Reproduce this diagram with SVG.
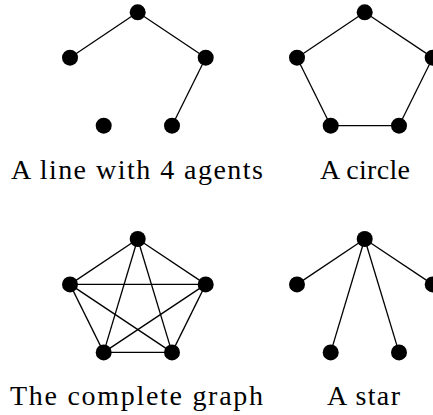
<svg xmlns="http://www.w3.org/2000/svg" width="433" height="415" viewBox="0 0 433 415">
<style>
.n{fill:#000}
.e{stroke:#000;stroke-width:1.3;fill:none}
.t{font-family:'Liberation Serif','Times New Roman','DejaVu Serif',serif;font-size:28px;fill:#000}
</style>
<rect width="433" height="415" fill="#fff"/>
<g id="connectors">
<line class="e" x1="137.7" y1="12.3" x2="70" y2="57.7"/>
<line class="e" x1="137.7" y1="12.3" x2="205.7" y2="57.7"/>
<line class="e" x1="205.7" y1="57.7" x2="172" y2="125.7"/>
<line class="e" x1="364.7" y1="12.3" x2="297" y2="57.7"/>
<line class="e" x1="364.7" y1="12.3" x2="432.7" y2="57.7"/>
<line class="e" x1="432.7" y1="57.7" x2="399" y2="125.7"/>
<line class="e" x1="399" y1="125.7" x2="330.7" y2="125.7"/>
<line class="e" x1="330.7" y1="125.7" x2="297" y2="57.7"/>
<line class="e" x1="137.7" y1="239" x2="70" y2="284.4"/>
<line class="e" x1="137.7" y1="239" x2="205.7" y2="284.4"/>
<line class="e" x1="137.7" y1="239" x2="103.7" y2="352.4"/>
<line class="e" x1="137.7" y1="239" x2="172" y2="352.4"/>
<line class="e" x1="70" y1="284.4" x2="205.7" y2="284.4"/>
<line class="e" x1="70" y1="284.4" x2="103.7" y2="352.4"/>
<line class="e" x1="70" y1="284.4" x2="172" y2="352.4"/>
<line class="e" x1="205.7" y1="284.4" x2="103.7" y2="352.4"/>
<line class="e" x1="205.7" y1="284.4" x2="172" y2="352.4"/>
<line class="e" x1="103.7" y1="352.4" x2="172" y2="352.4"/>
<line class="e" x1="364.7" y1="239" x2="297" y2="284.4"/>
<line class="e" x1="364.7" y1="239" x2="432.7" y2="284.4"/>
<line class="e" x1="364.7" y1="239" x2="330.7" y2="352.4"/>
<line class="e" x1="364.7" y1="239" x2="399" y2="352.4"/>
</g>
<g id="line-graph">
<circle id="l1" class="n" cx="137.7" cy="12.3" r="8"/>
<circle id="l2" class="n" cx="70" cy="57.7" r="8"/>
<circle id="l3" class="n" cx="205.7" cy="57.7" r="8"/>
<circle id="l4" class="n" cx="103.7" cy="125.7" r="8"/>
<circle id="l5" class="n" cx="172" cy="125.7" r="8"/>
<text class="t" x="11" y="178.5" textLength="252" lengthAdjust="spacing">A line with 4 agents</text>
</g>
<g id="circle-graph">
<circle id="c1" class="n" cx="364.7" cy="12.3" r="8"/>
<circle id="c2" class="n" cx="297" cy="57.7" r="8"/>
<circle id="c3" class="n" cx="432.7" cy="57.7" r="8"/>
<circle id="c4" class="n" cx="330.7" cy="125.7" r="8"/>
<circle id="c5" class="n" cx="399" cy="125.7" r="8"/>
<text class="t" x="320" y="178.5" textLength="90" lengthAdjust="spacing">A circle</text>
</g>
<g id="complete-graph">
<circle id="k1" class="n" cx="137.7" cy="239" r="8"/>
<circle id="k2" class="n" cx="70" cy="284.4" r="8"/>
<circle id="k3" class="n" cx="205.7" cy="284.4" r="8"/>
<circle id="k4" class="n" cx="103.7" cy="352.4" r="8"/>
<circle id="k5" class="n" cx="172" cy="352.4" r="8"/>
<text class="t" x="10" y="404.5" textLength="253" lengthAdjust="spacing">The complete graph</text>
</g>
<g id="star-graph">
<circle id="s1" class="n" cx="364.7" cy="239" r="8"/>
<circle id="s2" class="n" cx="297" cy="284.4" r="8"/>
<circle id="s3" class="n" cx="432.7" cy="284.4" r="8"/>
<circle id="s4" class="n" cx="330.7" cy="352.4" r="8"/>
<circle id="s5" class="n" cx="399" cy="352.4" r="8"/>
<text class="t" x="327" y="404.5" textLength="73" lengthAdjust="spacing">A star</text>
</g>
</svg>
